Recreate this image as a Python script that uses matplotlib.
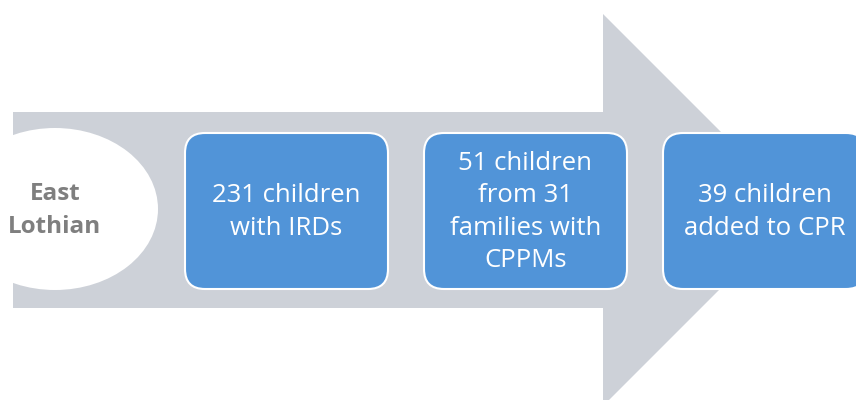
import matplotlib.pyplot as plt
from matplotlib.patches import Polygon, Ellipse, FancyBboxPatch

# contenido del diagrama
region = "East\nLothian"
etapas = ["231 children\nwith IRDs",
          "51 children\nfrom 31\nfamilies with\nCPPMs",
          "39 children\nadded to CPR"]
box_left = [185, 424, 663]

plt.rcParams['font.family'] = ['Open Sans', 'DejaVu Sans']

fig = plt.figure(figsize=(8.56, 4.0), dpi=100)
ax = fig.add_axes([0, 0, 1, 1])
ax.set_xlim(0, 856)
ax.set_ylim(400, 0)
ax.axis('off')

# flecha gris de fondo
gris = '#cdd1d8'
flecha = Polygon([(13, 112), (603, 112), (603, 14), (799, 210),
                  (603, 406), (603, 308), (13, 308)],
                 closed=True, facecolor=gris, edgecolor='none')
ax.add_patch(flecha)

# elipse blanca recortada por la flecha
elipse = Ellipse((55, 209), 206, 162, facecolor='white', edgecolor='none')
ax.add_patch(elipse)
elipse.set_clip_path(flecha)
ax.text(55, 210.5, region, ha='center', va='center', fontsize=17.5,
        fontweight='bold', color='#7f7f7f', linespacing=1.5)

# cajas azules
azul = '#5194d8'
for x0, txt in zip(box_left, etapas):
    caja = FancyBboxPatch((x0, 133), 203, 156,
                          boxstyle="round,pad=0,rounding_size=20",
                          facecolor=azul, edgecolor='white', linewidth=1.5)
    ax.add_patch(caja)
    ax.text(x0 + 101.5, 212, txt, ha='center', va='center', fontsize=18.5,
            color='white', linespacing=1.38)

fig.savefig('out.png', dpi=100)
